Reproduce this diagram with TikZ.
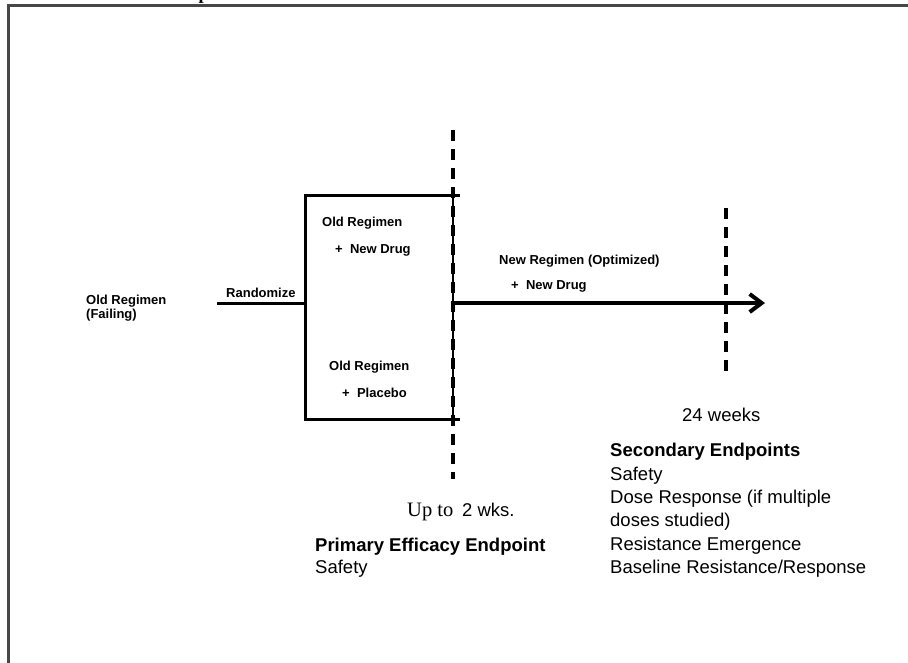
\documentclass[tikz,border=0pt]{standalone}
\usepackage{fontspec}
\setmainfont{Liberation Sans}
\newfontfamily\serifface{Liberation Serif}
\usetikzlibrary{arrows.meta}
\begin{document}
\begin{tikzpicture}[x=1pt,y=-1pt,
  small/.style={font=\fontsize{13}{15}\selectfont\bfseries, anchor=base west, inner sep=0pt},
  large/.style={font=\fontsize{18.5}{23}\selectfont, anchor=base west, inner sep=0pt},
  largebold/.style={large, font=\fontsize{18.5}{23}\selectfont\bfseries},
  frameline/.style={line width=2.2pt, draw=black!72},
  solidline/.style={line width=3pt, line cap=butt},
  dashline/.style={line width=4pt, dash pattern=on 11pt off 8pt},
]
\useasboundingbox (0,0) rectangle (908,662);
% frame
\coordinate (fbl) at (8.5,670);
\coordinate (ftl) at (8.5,5.5);
\coordinate (ftr) at (915,5.5);
\draw[frameline] (fbl) -- (ftl) -- (ftr);
% cut-off title descender
\node[font=\fontsize{18.5}{20}\selectfont\serifface\bfseries, anchor=base west, inner sep=0pt] (title) at (198.5,-1) {p};
% coordinates
\coordinate (rs) at (217,303);
\coordinate (rm) at (305,303);
\coordinate (btr) at (460,195);
\coordinate (btl) at (305,195);
\coordinate (bbl) at (305,419);
\coordinate (bbr) at (460,419);
\coordinate (bre1) at (453,195);
\coordinate (bre2) at (453,419);
\coordinate (d1t) at (453,130);
\coordinate (d1b) at (453,479);
\coordinate (as) at (453,303);
\coordinate (ae) at (765,303);
\coordinate (d2t) at (726,208);
\coordinate (d2b) at (726,371);
% lines
\draw[solidline] (rs) -- (rm);
\draw[solidline] (btr) -- (btl) -- (bbl) -- (bbr);
\draw[line width=1.5pt] (bre1) -- (bre2);
\draw[dashline] (d1t) -- (d1b);
\draw[dashline] (d2t) -- (d2b);
\draw[line width=4pt, -{Straight Barb[length=12pt,width=18pt]}] (as) -- (ae);
% small bold texts
\node[small] (old1) at (86,304) {Old Regimen};
\node[small] (old2) at (86,318) {(Failing)};
\node[small] (rand) at (226,297.3) {Randomize};
\node[small] (oa1) at (322,226.7) {Old Regimen};
\node[small] (oa2) at (335,253.3) {+\ \ New Drug};
\node[small] (ob1) at (329,370.7) {Old Regimen};
\node[small] (ob2) at (342,397.3) {+\ \ Placebo};
\node[small] (nr1) at (499,264.3) {New Regimen (Optimized)};
\node[small] (nr2) at (511,289.3) {+\ \ New Drug};
% large texts
\node[large, font=\fontsize{20.5}{23}\selectfont\serifface] (upto) at (407,516.7) {Up to};
\node[large] (wks) at (462,516.7) {2 wks.};
\node[largebold] (pe1) at (315,551) {Primary Efficacy Endpoint};
\node[large] (pe2) at (315,573.3) {Safety};
\node[large] (w24) at (682,421.7) {24 weeks};
\node[largebold] (se1) at (610,456.7) {Secondary Endpoints};
\node[large] (se2) at (610,480) {Safety};
\node[large] (se3) at (610,503.3) {Dose Response (if multiple};
\node[large] (se4) at (610,526.7) {doses studied)};
\node[large] (se5) at (610,550) {Resistance Emergence};
\node[large] (se6) at (610,573.3) {Baseline Resistance/Response};
\end{tikzpicture}
\end{document}
